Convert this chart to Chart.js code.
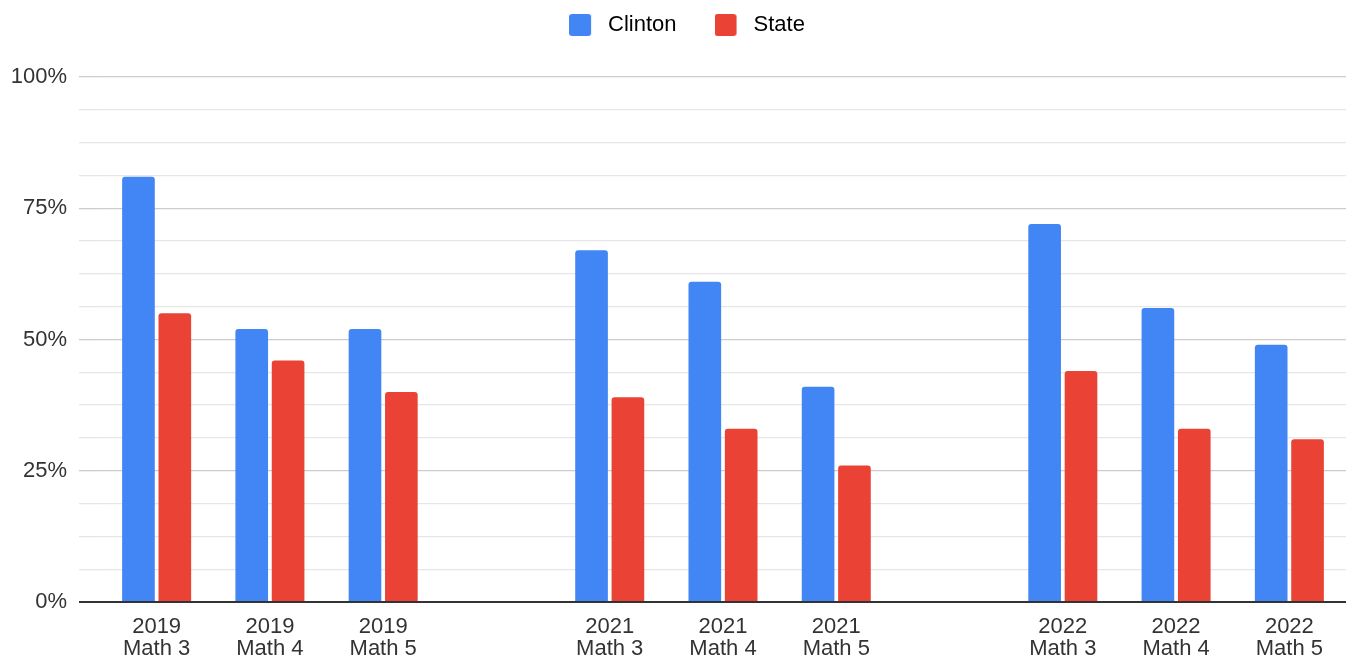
<!DOCTYPE html>
<html>
<head>
<meta charset="utf-8">
<script src="https://cdn.jsdelivr.net/npm/chart.js@4"></script>
<style>
  html, body { margin: 0; padding: 0; background: #fff; }
  #wrap { width: 1356px; height: 658px; position: relative; }
</style>
</head>
<body>
<div id="wrap"><canvas id="myChart"></canvas></div>
<script>
// empty slots between the years keep the gaps
const years = ['2019', '2019', '2019', '', '2021', '2021', '2021', '', '2022', '2022', '2022'];
const tests = ['Math 3', 'Math 4', 'Math 5', '', 'Math 3', 'Math 4', 'Math 5', '', 'Math 3', 'Math 4', 'Math 5'];
const clinton = [81, 52, 52, null, 67, 61, 41, null, 72, 56, 49];
const state = [55, 46, 40, null, 39, 33, 26, null, 44, 33, 31];
const yTicks = [0, 25, 50, 75, 100];

const labels = years.map((y, i) => y ? [y, tests[i]] : '');

const font = 'Arial, "Liberation Sans", sans-serif';

// legend swatch: 22px rounded square on a wider canvas so the text sits further right
function swatch(color) {
    const c = document.createElement('canvas');
    c.width = 28;
    c.height = 22;
    const g = c.getContext('2d');
    g.fillStyle = color;
    g.beginPath();
    g.roundRect(0, 0, 22, 22, 3);
    g.fill();
    return c;
}

// legend: extra height so the plot starts lower, and nudge it right a bit
const legendSpace = {
    id: 'legendSpace',
    beforeInit(chart) {
        const fit = chart.legend.fit;
        chart.legend.fit = function () {
            fit.bind(chart.legend)();
            this.height = 101;
        };
    },
    afterLayout(chart) {
        chart.legend.left += 9;
        chart.legend.right += 9;
    }
};

const ctx = document.getElementById('myChart');

new Chart(ctx, {
    type: 'bar',
    data: {
        labels: labels,
        datasets: [
            {
                label: 'Clinton',
                data: clinton,
                backgroundColor: '#4285F4',
                borderRadius: 3,
                categoryPercentage: 0.642,
                barPercentage: 0.898
            },
            {
                label: 'State',
                data: state,
                backgroundColor: '#EA4335',
                borderRadius: 3,
                categoryPercentage: 0.642,
                barPercentage: 0.898
            }
        ]
    },
    options: {
        responsive: true,
        maintainAspectRatio: false,
        animation: false,
        layout: {
            padding: { top: -24, left: 10, right: 10, bottom: -16 }
        },
        plugins: {
            legend: {
                position: 'top',
                labels: {
                    usePointStyle: true,
                    pointStyleWidth: 28,
                    boxHeight: 22,
                    padding: 38,
                    color: '#333',
                    font: { family: font, size: 22 },
                    generateLabels(chart) {
                        return chart.data.datasets.map((d, i) => ({
                            text: d.label,
                            fillStyle: d.backgroundColor,
                            strokeStyle: d.backgroundColor,
                            lineWidth: 0,
                            pointStyle: swatch(d.backgroundColor),
                            datasetIndex: i
                        }));
                    }
                }
            },
            tooltip: { enabled: false }
        },
        scales: {
            x: {
                grid: { display: false, drawTicks: false },
                border: { display: false },
                ticks: {
                    color: '#333',
                    padding: 14,
                    maxRotation: 0,
                    autoSkip: false,
                    font: { family: font, size: 22, lineHeight: 1.0 }
                }
            },
            y: {
                min: 0,
                max: 100,
                afterFit(scale) { scale.width = 90; },
                border: { display: false },
                grid: {
                    tickLength: 21,
                    color: c => {
                        const v = c.tick ? c.tick.value : 0;
                        if (v === 0) return '#333';
                        if (yTicks.includes(v)) return '#cccccc';
                        return '#e6e6e6';
                    },
                    lineWidth: c => (c.tick && c.tick.value === 0) ? 2 : 1.3
                },
                ticks: {
                    stepSize: 6.25,
                    padding: 12,
                    color: '#333',
                    font: { family: font, size: 22 },
                    callback: v => yTicks.includes(v) ? v + '%' : ''
                }
            }
        }
    },
    plugins: [legendSpace]
});
</script>
</body>
</html>
